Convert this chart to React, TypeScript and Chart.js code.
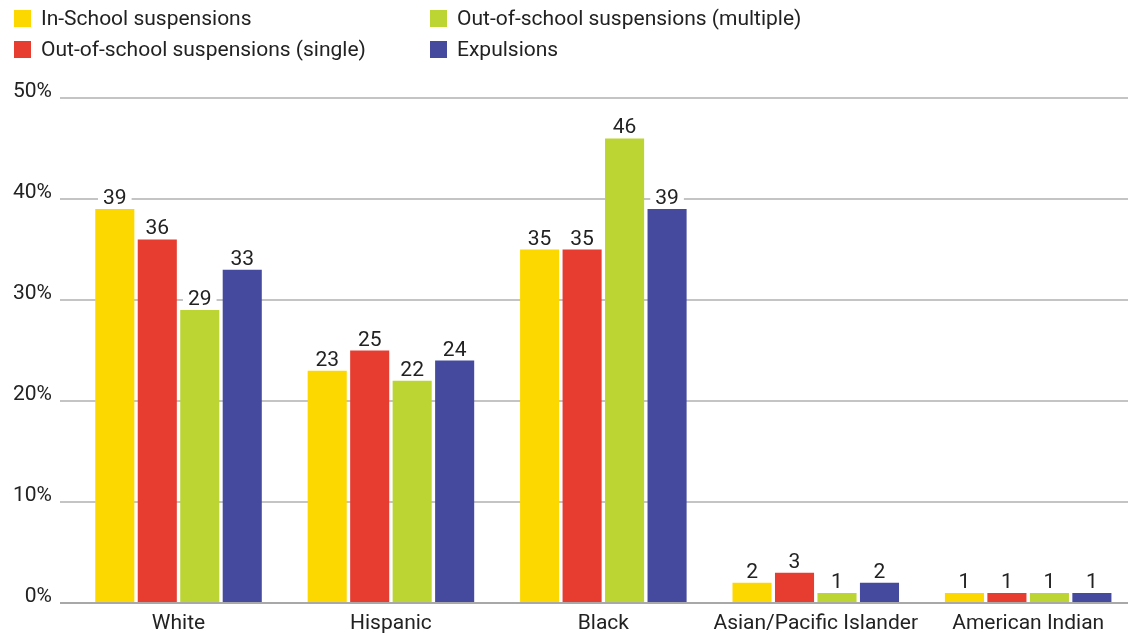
import React, { useEffect, useRef } from "react";
import { Chart, registerables } from "chart.js";

Chart.register(...registerables);

const categories = ["White", "Hispanic", "Black", "Asian/Pacific Islander", "American Indian"];
const seriesNames = [
  "In-School suspensions",
  "Out-of-school suspensions (single)",
  "Out-of-school suspensions (multiple)",
  "Expulsions",
];
const inSchool = [39, 23, 35, 2, 1];
const outSingle = [36, 25, 35, 3, 1];
const outMultiple = [29, 22, 46, 1, 1];
const expulsions = [33, 24, 39, 2, 1];
const yTicks = [0, 10, 20, 30, 40, 50];

const colors = ["#FDD800", "#E63D30", "#BDD532", "#454A9F"];
const FONT = "Roboto, 'DejaVu Sans', sans-serif";
const TEXT = "#222222";
const FS = 21;

const valueLabels = {
  id: "valueLabels",
  afterDatasetsDraw(chart: any) {
    const ctx = chart.ctx;
    ctx.save();
    ctx.font = `${FS}px ${FONT}`;
    ctx.textAlign = "center";
    ctx.textBaseline = "alphabetic";
    chart.data.datasets.forEach((ds: any, di: number) => {
      const meta = chart.getDatasetMeta(di);
      meta.data.forEach((el: any, i: number) => {
        const v = ds.data[i].y;
        const text = String(v);
        const w = ctx.measureText(text).width;
        const base = el.y - 5;
        ctx.fillStyle = "#ffffff";
        ctx.fillRect(el.x - w / 2 - 5, base - 19, w + 10, 22);
        ctx.fillStyle = TEXT;
        ctx.fillText(text, el.x, base);
      });
    });
    ctx.restore();
  },
};

function Legend() {
  const items = [
    { name: seriesNames[0], color: colors[0], left: 14, top: 10 },
    { name: seriesNames[2], color: colors[2], left: 430, top: 10 },
    { name: seriesNames[1], color: colors[1], left: 14, top: 41 },
    { name: seriesNames[3], color: colors[3], left: 430, top: 41 },
  ];
  return (
    <>
      {items.map((it) => (
        <div
          key={it.name}
          style={{
            position: "absolute",
            left: it.left,
            top: it.top,
            height: 17,
            display: "flex",
            alignItems: "center",
            whiteSpace: "nowrap",
            fontFamily: FONT,
            fontSize: FS,
            color: TEXT,
          }}
        >
          <span style={{ display: "inline-block", width: 17, height: 17, background: it.color, marginRight: 10 }} />
          <span style={{ lineHeight: "17px" }}>{it.name}</span>
        </div>
      ))}
    </>
  );
}

export default function App() {
  const ref = useRef<HTMLCanvasElement | null>(null);

  useEffect(() => {
    if (!ref.current) return;
    const seriesData = [inSchool, outSingle, outMultiple, expulsions];
    const chart = new Chart(ref.current, {
      type: "bar",
      data: {
        datasets: seriesData.map((vals, si) => ({
          label: seriesNames[si],
          data: vals.map((v, i) => ({ x: i, y: v })),
          backgroundColor: colors[si],
          borderWidth: 0,
          categoryPercentage: 0.8,
          barPercentage: 0.92,
        })),
      },
      plugins: [valueLabels],
      options: {
        animation: false,
        responsive: false,
        devicePixelRatio: 1,
        layout: { padding: { top: 98, left: 0, right: 0, bottom: 0 } },
        plugins: { legend: { display: false }, tooltip: { enabled: false } },
        scales: {
          x: {
            type: "linear",
            offset: false,
            min: -0.558,
            max: 4.47,
            grid: { display: false, drawTicks: false, offset: false },
            border: { display: false },
            afterBuildTicks: (scale: any) => {
              scale.ticks = categories.map((_, i) => ({ value: i }));
            },
            afterFit: (scale: any) => {
              scale.height = 31;
            },
            ticks: {
              autoSkip: false,
              maxRotation: 0,
              padding: 8,
              color: TEXT,
              font: { family: FONT, size: FS },
              callback: (v: any) => categories[Math.round(Number(v))] ?? "",
            },
          },
          y: {
            min: 0,
            max: 50,
            afterBuildTicks: (scale: any) => {
              scale.ticks = yTicks.map((v) => ({ value: v }));
            },
            afterFit: (scale: any) => {
              scale.width = 60;
            },
            grid: {
              drawTicks: false,
              lineWidth: 2,
              color: (c: any) => (c.index === 0 ? "#a8a8a8" : "#c4c4c4"),
            },
            border: { display: false },
            ticks: {
              padding: 8,
              labelOffset: -6,
              color: TEXT,
              font: { family: FONT, size: FS },
              callback: (v: any) => `${v}%`,
            },
          },
        },
      },
    } as any);
    return () => chart.destroy();
  }, []);

  return (
    <div style={{ position: "fixed", left: 0, top: 0, width: 1128, height: 634, overflow: "hidden", background: "#fff" }}>
      <canvas ref={ref} width={1128} height={634} style={{ position: "absolute", left: 0, top: 0 }} />
      <Legend />
    </div>
  );
}
